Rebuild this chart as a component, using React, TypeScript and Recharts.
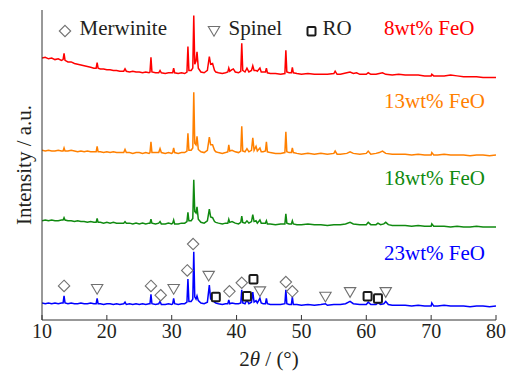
import React from "react";
import {
  ComposedChart,
  Line,
  Scatter,
  XAxis,
  YAxis,
  Legend,
} from "recharts";

// XRD patterns, 2θ (deg) vs intensity (a.u., stacked)
const FEO_8: [number, number][] = [
  [10, 338], [10.5, 339], [11, 337], [11.5, 338], [12, 336], [12.5, 337], [13, 335], [13.25, 336], [13.4, 344], [13.55, 335],
  [14, 333], [14.5, 333], [15, 331], [15.5, 330], [16, 329], [16.5, 328], [17, 327], [17.5, 326], [18, 325], [18.35, 325],
  [18.5, 332], [18.65, 325], [19, 324], [19.5, 324], [20, 323], [20.5, 323], [21, 322], [21.5, 322], [22, 321], [22.6, 321],
  [22.8, 324], [23, 321], [23.5, 320], [24, 321], [24.5, 320], [25, 320], [25.5, 319], [26, 320], [26.5, 319], [26.65, 320],
  [26.8, 339], [26.95, 320], [27.5, 319], [28, 319], [28.2, 322], [28.4, 319], [29, 318], [29.5, 319], [30, 319], [30.15, 319],
  [30.3, 325], [30.45, 319], [31, 318], [31.5, 319], [32, 318], [32.35, 320], [32.5, 353], [32.65, 322], [33.0, 322], [33.25, 325],
  [33.4, 393], [33.55, 330], [33.75, 334], [33.9, 346], [34.1, 325], [34.5, 320], [35, 319], [35.5, 322], [35.8, 340], [36.0, 330],
  [36.3, 331], [36.6, 322], [36.8, 320], [37.2, 319], [37.8, 318], [38.3, 319], [38.65, 320], [38.8, 325], [38.95, 321], [39.3, 323],
  [39.5, 324], [39.8, 320], [40.3, 319], [40.65, 321], [40.8, 357], [40.95, 322], [41.3, 320], [41.6, 325], [41.9, 320], [42.3, 322],
  [42.5, 328], [42.7, 322], [43.0, 322], [43.2, 321], [43.6, 325], [43.8, 320], [44.1, 320], [44.45, 320], [44.6, 325], [44.75, 319],
  [45.2, 318], [46, 318], [46.8, 317], [47.45, 318], [47.6, 348], [47.75, 320], [48.1, 319], [48.45, 319], [48.6, 326], [48.75, 319],
  [49.3, 318], [50, 317], [51, 318], [52, 317], [53, 317], [54, 317], [55, 318], [55.2, 321], [55.5, 317], [56, 317],
  [56.5, 318], [57, 319], [57.5, 320], [58, 318], [58.5, 319], [59, 317], [60, 317], [60.3, 319], [60.7, 317], [61.5, 317],
  [62, 318], [62.5, 319], [63, 317], [64, 316], [65, 317], [66, 316], [67, 316], [68, 316], [69, 315], [70, 315],
  [70.1, 317], [70.4, 315], [71, 315], [72, 315], [73, 316], [74, 315], [75, 314], [76, 314], [77, 314], [78, 313],
  [79, 313], [80, 313],
];

const FEO_13: [number, number][] = [
  [10, 219], [10.5, 218], [11, 219], [11.5, 218], [12, 218], [12.5, 219], [13, 218], [13.25, 218], [13.4, 222], [13.55, 218],
  [14, 218], [14.5, 219], [15, 218], [15.5, 217], [16, 218], [16.5, 217], [17, 218], [17.5, 217], [18, 217], [18.35, 217],
  [18.5, 224], [18.65, 217], [19, 217], [19.5, 216], [20, 217], [20.5, 216], [21, 217], [21.5, 216], [22, 216], [22.6, 216],
  [22.8, 220], [23, 216], [23.5, 216], [24, 215], [24.5, 216], [25, 216], [25.5, 215], [26, 216], [26.5, 215], [26.65, 216],
  [26.8, 230], [26.95, 216], [27.5, 216], [28, 216], [28.2, 221], [28.4, 216], [29, 215], [29.5, 216], [30, 215], [30.15, 216],
  [30.3, 222], [30.45, 216], [31, 215], [31.5, 216], [32, 216], [32.35, 218], [32.5, 241], [32.65, 219], [33.0, 219], [33.25, 222],
  [33.4, 294], [33.55, 228], [33.75, 226], [33.9, 237], [34.1, 220], [34.5, 217], [35, 216], [35.5, 219], [35.8, 236], [36.0, 226],
  [36.3, 226], [36.6, 219], [36.8, 217], [37.2, 216], [37.8, 215], [38.3, 216], [38.65, 217], [38.8, 226], [38.95, 218], [39.3, 219],
  [39.8, 217], [40.3, 216], [40.65, 218], [40.8, 250], [40.95, 218], [41.3, 217], [41.6, 221], [41.9, 217], [42.3, 219], [42.5, 235],
  [42.7, 219], [43.0, 224], [43.2, 218], [43.6, 222], [43.8, 217], [44.1, 217], [44.45, 218], [44.6, 230], [44.75, 217], [45.2, 216],
  [46, 215], [46.8, 215], [47.45, 216], [47.6, 243], [47.75, 217], [48.1, 216], [48.45, 216], [48.6, 222], [48.75, 216], [49.3, 215],
  [50, 214], [51, 215], [52, 214], [53, 215], [54, 214], [55, 215], [55.2, 218], [55.5, 214], [56, 214], [57, 215],
  [57.5, 217], [58, 215], [59, 214], [60, 215], [60.3, 218], [60.7, 214], [61.5, 215], [62, 216], [62.5, 218], [63, 215],
  [64, 214], [65, 214], [66, 214], [67, 213], [68, 214], [69, 213], [70, 213], [70.1, 216], [70.4, 213], [71, 213],
  [72, 214], [73, 213], [74, 213], [75, 213], [76, 212], [77, 213], [78, 213], [79, 212], [80, 213],
];

const FEO_18: [number, number][] = [
  [10, 128], [10.5, 129], [11, 128], [11.5, 129], [12, 128], [12.5, 128], [13, 129], [13.25, 129], [13.4, 132], [13.55, 129],
  [14, 128], [14.5, 128], [15, 127], [15.5, 128], [16, 127], [16.5, 127], [17, 126], [17.5, 127], [18, 126], [18.35, 126],
  [18.5, 131], [18.65, 126], [19, 126], [19.5, 125], [20, 126], [20.5, 125], [21, 126], [21.5, 125], [22, 125], [22.6, 125],
  [22.8, 127], [23, 125], [23.5, 125], [24, 124], [24.5, 125], [25, 124], [25.5, 125], [26, 124], [26.5, 125], [26.65, 125],
  [26.8, 130], [26.95, 125], [27.5, 124], [28, 125], [28.2, 127], [28.4, 124], [29, 124], [29.5, 125], [30, 124], [30.15, 125],
  [30.3, 129], [30.45, 124], [31, 124], [31.5, 125], [32, 125], [32.35, 127], [32.5, 139], [32.65, 128], [33.0, 128], [33.25, 131],
  [33.4, 181], [33.55, 140], [33.75, 138], [33.9, 146], [34.1, 130], [34.5, 126], [35, 125], [35.5, 128], [35.8, 143], [36.0, 133],
  [36.3, 132], [36.6, 127], [36.8, 126], [37.2, 125], [37.8, 124], [38.3, 125], [38.65, 125], [38.8, 130], [38.95, 126], [39.3, 127],
  [39.8, 125], [40.3, 124], [40.65, 126], [40.8, 134], [40.95, 126], [41.3, 125], [41.6, 128], [41.9, 125], [42.3, 127], [42.5, 136],
  [42.7, 127], [43.0, 128], [43.2, 125], [43.6, 129], [43.8, 125], [44.1, 125], [44.45, 125], [44.6, 128], [44.75, 124], [45.2, 124],
  [46, 123], [46.8, 124], [47.45, 124], [47.6, 137], [47.75, 125], [48.1, 124], [48.45, 124], [48.6, 128], [48.75, 124], [49.3, 123],
  [50, 123], [51, 124], [52, 123], [53, 123], [54, 122], [55, 123], [56, 123], [56.8, 124], [57.5, 126], [58, 124],
  [59, 123], [60, 123], [60.3, 126], [60.7, 123], [61.5, 123], [61.8, 125], [62.2, 123], [62.7, 124], [63.0, 126], [63.4, 123],
  [64, 122], [65, 122], [66, 122], [67, 121], [68, 122], [69, 121], [70, 121], [70.1, 124], [70.4, 121], [71, 121],
  [72, 121], [73, 120], [74, 121], [75, 120], [76, 120], [77, 121], [78, 120], [79, 120], [80, 120],
];

const FEO_23: [number, number][] = [
  [10, 22], [10.5, 21], [11, 22], [11.5, 21], [12, 22], [12.5, 21], [13, 22], [13.25, 22], [13.4, 31], [13.55, 22],
  [14, 21], [14.5, 22], [15, 21], [15.5, 21], [16, 22], [16.5, 21], [17, 21], [17.5, 22], [18, 21], [18.35, 21],
  [18.5, 28], [18.65, 21], [19, 21], [19.5, 20], [20, 21], [20.5, 21], [21, 20], [21.5, 21], [22, 20], [22.6, 21],
  [22.8, 23], [23, 20], [23.5, 21], [24, 20], [24.5, 21], [25, 20], [25.5, 21], [26, 20], [26.5, 21], [26.65, 21],
  [26.8, 33], [26.95, 21], [27.5, 20], [28, 21], [28.2, 24], [28.4, 20], [29, 20], [29.5, 21], [30, 20], [30.15, 21],
  [30.3, 28], [30.45, 21], [31, 20], [31.5, 21], [32, 21], [32.35, 23], [32.5, 53], [32.65, 24], [33.0, 24], [33.25, 27],
  [33.4, 88], [33.55, 30], [33.75, 27], [33.9, 31], [34.1, 25], [34.5, 22], [35, 21], [35.5, 23], [35.8, 45], [36.0, 27],
  [36.3, 26], [36.6, 23], [36.8, 22], [37.2, 21], [37.8, 20], [38.3, 21], [38.65, 21], [38.8, 26], [38.95, 21], [39.3, 22],
  [39.8, 21], [40.3, 21], [40.65, 22], [40.8, 39], [40.95, 22], [41.3, 21], [41.6, 26], [41.9, 21], [42.3, 23], [42.5, 36],
  [42.7, 23], [43.0, 25], [43.2, 22], [43.6, 28], [43.8, 22], [44.1, 21], [44.45, 21], [44.6, 28], [44.75, 21], [45.2, 20],
  [46, 20], [46.8, 20], [47.45, 21], [47.6, 39], [47.75, 21], [48.1, 20], [48.45, 20], [48.6, 30], [48.75, 20], [49.3, 20],
  [50, 19], [51, 20], [52, 19], [53, 20], [53.7, 21], [54, 19], [55, 20], [56, 20], [56.8, 21], [57.5, 24],
  [58, 21], [59, 20], [60, 20], [60.3, 23], [60.7, 20], [61.5, 20], [61.8, 22], [62.2, 20], [62.7, 21], [63.0, 24],
  [63.4, 20], [64, 19], [65, 19], [66, 19], [67, 18], [68, 19], [69, 18], [70, 18], [70.1, 22], [70.4, 18],
  [71, 18], [72, 19], [73, 18], [74, 18], [75, 18], [76, 17], [77, 18], [78, 18], [79, 17], [80, 18],
];

// phase markers on the 23wt% pattern
const MERWINITE: [number, number][] = [
  [13.4, 44], [26.8, 44], [28.3, 32], [32.4, 64], [33.3, 98], [38.9, 37], [40.8, 48], [47.6, 49], [48.6, 37],
];
const SPINEL: [number, number][] = [
  [18.5, 40], [30.3, 40], [35.7, 57], [43.6, 37], [53.7, 30], [57.5, 36], [63.0, 36],
];
const RO: [number, number][] = [
  [36.8, 30], [41.6, 31], [42.6, 53], [60.2, 31], [61.8, 28],
];

const SAMPLES = ["8wt% FeO", "13wt% FeO", "18wt% FeO", "23wt% FeO"];
const PATTERNS = [FEO_8, FEO_13, FEO_18, FEO_23];
const COLORS = ["#ff0000", "#ff8000", "#108a10", "#0000ff"];
const X_TICKS = [10, 20, 30, 40, 50, 60, 70, 80];
const Y_TICKS = [0, 100, 200, 300, 400];

const FONT = "'Liberation Serif', 'Times New Roman', serif";
const MARK = "#707070";
const INK = "#231f20";

const toRows = (pts: [number, number][]) => pts.map(([theta, intensity]) => ({ theta, intensity }));

const Diamond = ({ cx, cy, s = 5.7 }: any) => (
  <polygon
    points={`${cx},${cy - s} ${cx + s},${cy} ${cx},${cy + s} ${cx - s},${cy}`}
    fill="none"
    stroke={MARK}
    strokeWidth={1.1}
  />
);
const Triangle = ({ cx, cy }: any) => (
  <polygon
    points={`${cx - 5.7},${cy - 4.5} ${cx + 5.7},${cy - 4.5} ${cx},${cy + 5.2}`}
    fill="none"
    stroke={MARK}
    strokeWidth={1.1}
  />
);
const Square = ({ cx, cy }: any) => (
  <rect x={cx - 4} y={cy - 4} width={8} height={8.5} rx={1} fill="#fff" stroke="#1a1a1a" strokeWidth={2} />
);

const LABEL_BASELINES = [34.5, 107.5, 185, 260];

const Overlay = () => (
  <svg width={513} height={373} style={{ position: "absolute", left: 0, top: 0, pointerEvents: "none" }}>
    <g fontFamily={FONT} fontSize={21} fill={INK}>
      <Diamond cx={65} cy={31} />
      <text x={79.5} y={34.5}>Merwinite</text>
      <Triangle cx={214} cy={31} />
      <text x={228.5} y={34.5}>Spinel</text>
      <Square cx={311.5} cy={31} />
      <text x={322.5} y={34.5}>RO</text>
    </g>
    {SAMPLES.map((s, i) => (
      <text key={s} x={384} y={LABEL_BASELINES[i]} fontFamily={FONT} fontSize={21} fill={COLORS[i]}>
        {s}
      </text>
    ))}
  </svg>
);

const XLabel = ({ viewBox }: any) => {
  const cx = viewBox.x + viewBox.width / 2;
  return (
    <text x={cx} y={366} textAnchor="middle" fontFamily={FONT} fontSize={21} fill={INK}>
      <tspan fontFamily={FONT}>2</tspan>
      <tspan fontFamily={FONT} fontStyle="italic">θ</tspan>
      <tspan fontFamily={FONT}> / (°)</tspan>
    </text>
  );
};

const YLabel = ({ viewBox }: any) => {
  const cy = viewBox.y + viewBox.height / 2;
  return (
    <text x={31} y={cy} transform={`rotate(-90, 31, ${cy})`} textAnchor="middle" fontFamily={FONT} fontSize={21} fill={INK}>
      Intensity / a.u.
    </text>
  );
};

export default function App() {
  return (
    <div style={{ position: "absolute", left: 0, top: 0, width: 513, height: 373, background: "#fff", fontFamily: FONT }}>
      <ComposedChart width={513} height={373} margin={{ top: 10, right: 17, bottom: 0, left: 0 }} style={{ fontFamily: FONT }}>
        <XAxis
          dataKey="theta"
          type="number"
          domain={[10, 80]}
          ticks={X_TICKS}
          allowDataOverflow
          height={53}
          tickSize={-5}
          tickMargin={9}
          stroke="#333"
          tick={{ fontFamily: FONT, fontSize: 20, fill: INK }}
          label={<XLabel />}
        />
        <XAxis xAxisId="top" orientation="top" type="number" domain={[10, 80]} allowDataOverflow height={0} tick={false} tickLine={false} stroke="#333" />
        <YAxis
          type="number"
          domain={[0, 400]}
          ticks={Y_TICKS}
          allowDataOverflow
          width={42}
          tickSize={-5}
          tick={false}
          stroke="#333"
          label={<YLabel />}
        />
        <YAxis yAxisId="right" orientation="right" type="number" domain={[0, 400]} ticks={Y_TICKS} allowDataOverflow width={0} tickSize={-5} tick={false} stroke="#333" />
        {PATTERNS.map((p, i) => (
          <Line
            key={SAMPLES[i]}
            name={SAMPLES[i]}
            data={toRows(p)}
            dataKey="intensity"
            type="linear"
            stroke={COLORS[i]}
            strokeWidth={1.5}
            dot={false}
            isAnimationActive={false}
          />
        ))}
        <Scatter name="Merwinite" data={toRows(MERWINITE)} dataKey="intensity" shape={(p: any) => <Diamond cx={p.cx} cy={p.cy} />} isAnimationActive={false} />
        <Scatter name="Spinel" data={toRows(SPINEL)} dataKey="intensity" shape={(p: any) => <Triangle cx={p.cx} cy={p.cy} />} isAnimationActive={false} />
        <Scatter name="RO" data={toRows(RO)} dataKey="intensity" shape={(p: any) => <Square cx={p.cx} cy={p.cy} />} isAnimationActive={false} />
        <Legend layout="horizontal" verticalAlign="middle" wrapperStyle={{ left: 0, top: 0, width: 0, height: 0 }} content={() => null} />
      </ComposedChart>
      <Overlay />
    </div>
  );
}
